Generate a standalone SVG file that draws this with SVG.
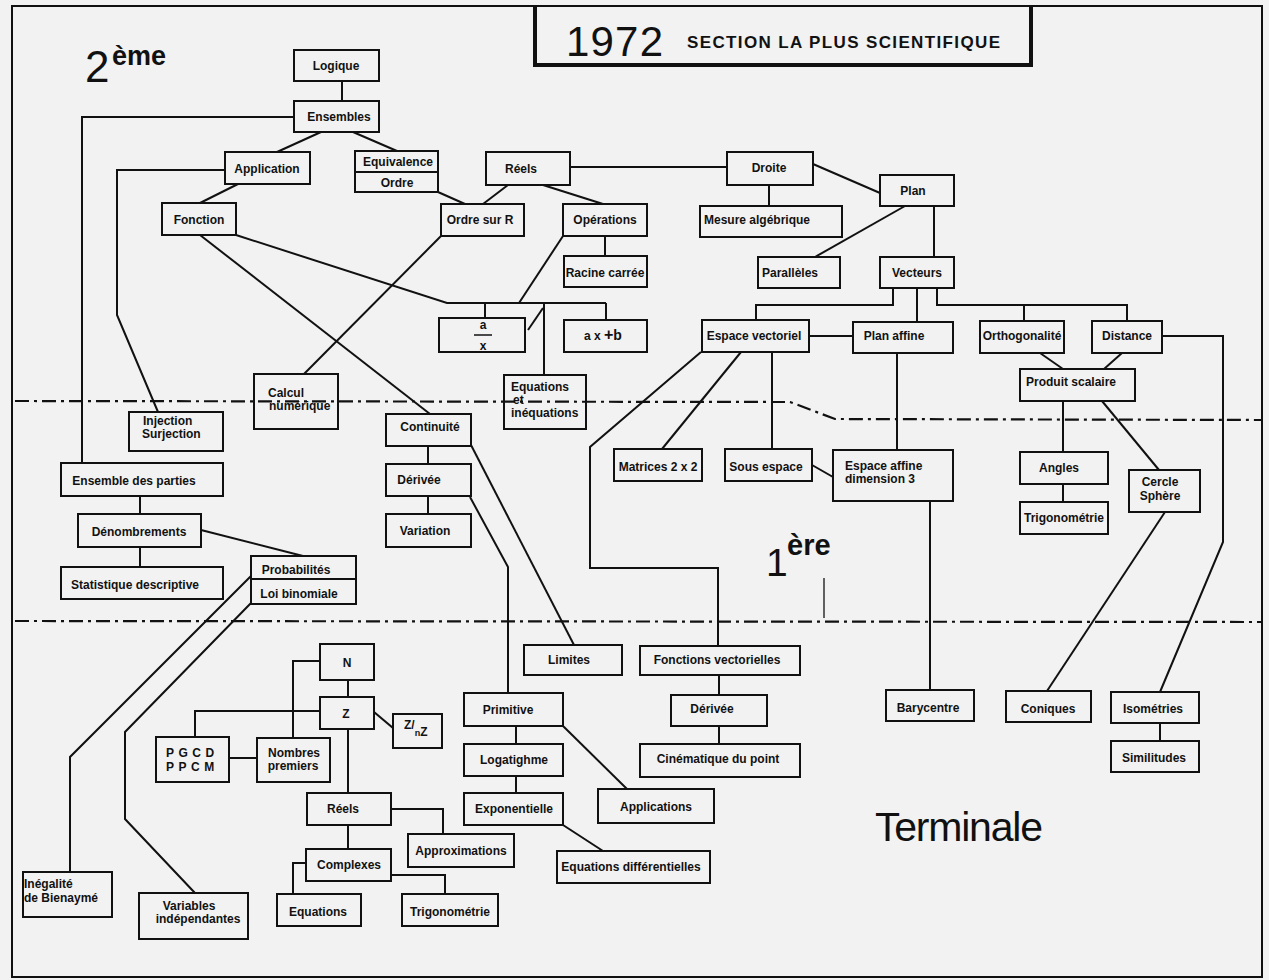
<svg xmlns="http://www.w3.org/2000/svg" width="1269" height="980" viewBox="0 0 1269 980">
<style>
.n rect{fill:none;stroke:#111;stroke-width:2}
.n line{stroke:#111;stroke-width:2}
text{font-family:"Liberation Sans",Arial,Helvetica,sans-serif;fill:#111}
.t{font-size:12px;font-weight:bold;text-anchor:middle}
.tl{font-size:12px;font-weight:bold;text-anchor:start}
#connectors line,#connectors polyline{fill:none;stroke:#111;stroke-width:2}
.dd{fill:none;stroke:#111;stroke-width:2.2;stroke-dasharray:14 5 3 5}
</style>
<rect x="0" y="0" width="1269" height="980" fill="#f2f2f2"/>
<g id="frame">
<rect x="12" y="6" width="1250" height="971" fill="none" stroke="#111" stroke-width="2"/>
<polyline points="535,6 535,65 1031,65 1031,6" fill="none" stroke="#111" stroke-width="4"/>
<text x="566" y="56" font-size="42" textLength="97">1972</text>
<text x="687" y="48" font-size="17" font-weight="bold" textLength="313">SECTION  LA  PLUS  SCIENTIFIQUE</text>
</g>
<g id="levels">
<text x="85" y="82" font-size="44">2</text>
<text x="112" y="65" font-size="27" font-weight="bold">ème</text>
<text x="766" y="576" font-size="39">1</text>
<text x="787" y="555" font-size="29" font-weight="bold">ère</text>
<text x="875" y="841" font-size="41" textLength="168">Terminale</text>
<polyline class="dd" points="15,401 790,402 835,419 1262,420"/>
<line class="dd" x1="15" y1="621" x2="1262" y2="622"/>
<line x1="824" y1="578" x2="824" y2="618" stroke="#111" stroke-width="1.3"/>
</g>
<g id="connectors">
<line x1="342" y1="81" x2="342" y2="101"/>
<line x1="321" y1="132" x2="277" y2="152"/>
<line x1="353" y1="132" x2="397" y2="151"/>
<line x1="238" y1="184" x2="200" y2="203"/>
<polyline points="294,117 82,117 82,463"/>
<polyline points="225,170 117,170 117,315 158,412"/>
<line x1="438" y1="192" x2="465" y2="204"/>
<line x1="508" y1="185" x2="483" y2="204"/>
<line x1="543" y1="185" x2="603" y2="204"/>
<line x1="570" y1="167" x2="727" y2="167"/>
<line x1="769" y1="185" x2="769" y2="206"/>
<line x1="813" y1="164" x2="880" y2="193"/>
<line x1="905" y1="206" x2="815" y2="257"/>
<line x1="934" y1="206" x2="934" y2="257"/>
<line x1="605" y1="236" x2="605" y2="256"/>
<line x1="563" y1="236" x2="519" y2="303"/>
<polyline points="236,235 447,303 606,303"/>
<line x1="485" y1="303" x2="485" y2="318"/>
<line x1="544" y1="303" x2="544" y2="375"/>
<line x1="606" y1="303" x2="606" y2="320"/>
<line x1="528" y1="330" x2="543" y2="308"/>
<line x1="441" y1="236" x2="304" y2="374"/>
<line x1="200" y1="235" x2="430" y2="414"/>
<line x1="428" y1="446" x2="428" y2="464"/>
<line x1="428" y1="496" x2="428" y2="514"/>
<line x1="471" y1="445" x2="574" y2="645"/>
<polyline points="470,497 508,567 508,693"/>
<line x1="516" y1="726" x2="516" y2="744"/>
<line x1="516" y1="776" x2="516" y2="793"/>
<line x1="563" y1="726" x2="627" y2="789"/>
<line x1="563" y1="825" x2="603" y2="851"/>
<line x1="719" y1="675" x2="719" y2="695"/>
<line x1="719" y1="726" x2="719" y2="744"/>
<polyline points="893,288 893,305 756,305 756,320"/>
<line x1="917" y1="288" x2="917" y2="322"/>
<polyline points="937,288 937,305 1127,305 1127,321"/>
<line x1="1024" y1="305" x2="1024" y2="321"/>
<line x1="809" y1="336" x2="853" y2="336"/>
<line x1="897" y1="353" x2="897" y2="450"/>
<line x1="930" y1="501" x2="930" y2="690"/>
<line x1="741" y1="352" x2="662" y2="449"/>
<line x1="772" y1="352" x2="772" y2="449"/>
<polyline points="701,352 590,447 590,568 718,568 718,646"/>
<line x1="812" y1="465" x2="833" y2="477"/>
<line x1="1040" y1="353" x2="1063" y2="369"/>
<line x1="1122" y1="353" x2="1104" y2="369"/>
<line x1="1063" y1="401" x2="1063" y2="452"/>
<line x1="1063" y1="484" x2="1063" y2="502"/>
<line x1="1102" y1="401" x2="1159" y2="470"/>
<line x1="1165" y1="512" x2="1047" y2="691"/>
<polyline points="1162,336 1223,336 1223,542 1160,692"/>
<line x1="1160" y1="723" x2="1160" y2="741"/>
<line x1="140" y1="496" x2="140" y2="514"/>
<line x1="140" y1="547" x2="140" y2="567"/>
<line x1="201" y1="530" x2="303" y2="556"/>
<polyline points="251,576 70,757 70,872"/>
<polyline points="251,603 125,732 125,819 195,893"/>
<line x1="348" y1="680" x2="348" y2="697"/>
<polyline points="320,661 293,661 293,738"/>
<polyline points="320,711 195,711 195,737"/>
<line x1="229" y1="758" x2="257" y2="758"/>
<line x1="374" y1="712" x2="393" y2="728"/>
<line x1="348" y1="729" x2="348" y2="793"/>
<polyline points="391,809 443,809 443,834"/>
<line x1="348" y1="825" x2="348" y2="849"/>
<polyline points="306,863 293,863 293,894"/>
<polyline points="391,875 445,875 445,894"/>
</g>
<g id="logique" class="n"><rect x="294" y="50" width="85" height="31"/><text class="t" x="336" y="70">Logique</text></g>
<g id="ensembles" class="n"><rect x="294" y="101" width="85" height="31"/><text class="t" x="339" y="121">Ensembles</text></g>
<g id="application" class="n"><rect x="225" y="152" width="85" height="32"/><text class="t" x="267" y="173">Application</text></g>
<g id="equivalence-ordre" class="n"><rect x="355" y="151" width="83" height="41"/><line x1="355" y1="172" x2="438" y2="172"/><text class="t" x="398" y="166">Equivalence</text><text class="t" x="397" y="187">Ordre</text></g>
<g id="fonction" class="n"><rect x="162" y="203" width="74" height="32"/><text class="t" x="199" y="224">Fonction</text></g>
<g id="reels-top" class="n"><rect x="486" y="152" width="84" height="33"/><text class="t" x="521" y="173">Réels</text></g>
<g id="droite" class="n"><rect x="727" y="152" width="86" height="33"/><text class="t" x="769" y="172">Droite</text></g>
<g id="ordre-sur-r" class="n"><rect x="441" y="204" width="83" height="32"/><text class="t" x="480" y="224">Ordre sur R</text></g>
<g id="operations" class="n"><rect x="563" y="204" width="84" height="32"/><text class="t" x="605" y="224">Opérations</text></g>
<g id="mesure" class="n"><rect x="700" y="206" width="142" height="31"/><text class="t" x="757" y="224">Mesure algébrique</text></g>
<g id="racine" class="n"><rect x="564" y="256" width="83" height="31"/><text class="t" x="605" y="277">Racine carrée</text></g>
<g id="paralleles" class="n"><rect x="758" y="257" width="82" height="31"/><text class="t" x="790" y="277">Parallèles</text></g>
<g id="plan" class="n"><rect x="880" y="175" width="74" height="31"/><text class="t" x="913" y="195">Plan</text></g>
<g id="vecteurs" class="n"><rect x="880" y="257" width="74" height="31"/><text class="t" x="917" y="277">Vecteurs</text></g>
<g id="espace-vectoriel" class="n"><rect x="702" y="320" width="107" height="32"/><text class="t" x="754" y="340">Espace vectoriel</text></g>
<g id="plan-affine" class="n"><rect x="853" y="322" width="100" height="31"/><text class="t" x="894" y="340">Plan affine</text></g>
<g id="orthogonalite" class="n"><rect x="980" y="321" width="84" height="32"/><text class="t" x="1022" y="340">Orthogonalité</text></g>
<g id="distance" class="n"><rect x="1092" y="321" width="70" height="32"/><text class="t" x="1127" y="340">Distance</text></g>
<g id="produit-scalaire" class="n"><rect x="1020" y="369" width="115" height="32"/><text class="t" x="1071" y="386">Produit scalaire</text></g>
<g id="angles" class="n"><rect x="1020" y="452" width="88" height="32"/><text class="t" x="1059" y="472">Angles</text></g>
<g id="trigonometrie-1" class="n"><rect x="1020" y="502" width="88" height="32"/><text class="t" x="1064" y="522">Trigonométrie</text></g>
<g id="cercle-sphere" class="n"><rect x="1129" y="470" width="71" height="42"/><text class="t" x="1160" y="486">Cercle</text><text class="t" x="1160" y="500">Sphère</text></g>
<g id="espace-affine" class="n"><rect x="833" y="450" width="120" height="51"/><text class="tl" x="845" y="470">Espace affine</text><text class="tl" x="845" y="483">dimension 3</text></g>
<g id="matrices" class="n"><rect x="614" y="449" width="88" height="32"/><text class="t" x="658" y="471">Matrices 2 x 2</text></g>
<g id="sous-espace" class="n"><rect x="725" y="449" width="87" height="32"/><text class="t" x="766" y="471">Sous espace</text></g>
<g id="barycentre" class="n"><rect x="886" y="690" width="88" height="31"/><text class="t" x="928" y="712">Barycentre</text></g>
<g id="coniques" class="n"><rect x="1006" y="691" width="85" height="31"/><text class="t" x="1048" y="713">Coniques</text></g>
<g id="isometries" class="n"><rect x="1111" y="692" width="88" height="31"/><text class="t" x="1153" y="713">Isométries</text></g>
<g id="similitudes" class="n"><rect x="1111" y="741" width="88" height="31"/><text class="t" x="1154" y="762">Similitudes</text></g>
<g id="fonctions-vectorielles" class="n"><rect x="640" y="646" width="160" height="29"/><text class="t" x="717" y="664">Fonctions vectorielles</text></g>
<g id="derivee-3" class="n"><rect x="671" y="695" width="96" height="31"/><text class="t" x="712" y="713">Dérivée</text></g>
<g id="cinematique" class="n"><rect x="640" y="744" width="160" height="33"/><text class="t" x="718" y="763">Cinématique du point</text></g>
<g id="limites" class="n"><rect x="524" y="645" width="98" height="30"/><text class="t" x="569" y="664">Limites</text></g>
<g id="primitive" class="n"><rect x="464" y="693" width="99" height="33"/><text class="t" x="508" y="714">Primitive</text></g>
<g id="logatighme" class="n"><rect x="464" y="744" width="99" height="32"/><text class="t" x="514" y="764">Logatighme</text></g>
<g id="exponentielle" class="n"><rect x="464" y="793" width="99" height="32"/><text class="t" x="514" y="813">Exponentielle</text></g>
<g id="applications" class="n"><rect x="598" y="789" width="116" height="34"/><text class="t" x="656" y="811">Applications</text></g>
<g id="equations-differentielles" class="n"><rect x="557" y="851" width="153" height="32"/><text class="t" x="631" y="871">Equations différentielles</text></g>
<g id="approximations" class="n"><rect x="408" y="834" width="106" height="33"/><text class="t" x="461" y="855">Approximations</text></g>
<g id="trigonometrie-2" class="n"><rect x="402" y="894" width="96" height="32"/><text class="t" x="450" y="916">Trigonométrie</text></g>
<g id="equations-2" class="n"><rect x="277" y="894" width="84" height="32"/><text class="t" x="318" y="916">Equations</text></g>
<g id="complexes" class="n"><rect x="306" y="849" width="85" height="32"/><text class="t" x="349" y="869">Complexes</text></g>
<g id="reels-bottom" class="n"><rect x="307" y="793" width="84" height="32"/><text class="t" x="343" y="813">Réels</text></g>
<g id="n" class="n"><rect x="320" y="644" width="54" height="36"/><text class="t" x="347" y="667" font-size="13">N</text></g>
<g id="z" class="n"><rect x="320" y="697" width="54" height="32"/><text class="t" x="346" y="718" font-size="13">Z</text></g>
<g id="znz" class="n"><rect x="393" y="714" width="49" height="34"/><text class="tl" x="404" y="729" font-size="11">Z<tspan>/</tspan><tspan dy="7" font-size="9">n</tspan><tspan dy="0" font-size="12">Z</tspan></text></g>
<g id="pgcd-ppcm" class="n"><rect x="156" y="737" width="73" height="45"/><text class="tl" x="166" y="757" letter-spacing="4.5">PGCD</text><text class="tl" x="166" y="771" letter-spacing="4.5">PPCM</text></g>
<g id="nombres-premiers" class="n"><rect x="257" y="738" width="73" height="44"/><text class="t" x="294" y="757">Nombres</text><text class="t" x="293" y="770">premiers</text></g>
<g id="inegalite" class="n"><rect x="23" y="872" width="89" height="45"/><text class="tl" x="24" y="888">Inégalité</text><text class="tl" x="24" y="902">de Bienaymé</text></g>
<g id="variables" class="n"><rect x="139" y="893" width="109" height="46"/><text class="t" x="189" y="910">Variables</text><text class="t" x="198" y="923">indépendantes</text></g>
<g id="injection" class="n"><rect x="129" y="412" width="94" height="39"/><text class="tl" x="143" y="425">Injection</text><text class="tl" x="142" y="438">Surjection</text></g>
<g id="ensemble-des-parties" class="n"><rect x="61" y="463" width="162" height="33"/><text class="t" x="134" y="485">Ensemble des parties</text></g>
<g id="denombrements" class="n"><rect x="78" y="514" width="123" height="33"/><text class="t" x="139" y="536">Dénombrements</text></g>
<g id="statistique" class="n"><rect x="61" y="567" width="162" height="32"/><text class="t" x="135" y="589">Statistique descriptive</text></g>
<g id="probabilites" class="n"><rect x="251" y="556" width="105" height="48"/><line x1="251" y1="579" x2="356" y2="579"/><text class="t" x="296" y="574">Probabilités</text><text class="t" x="299" y="598">Loi binomiale</text></g>
<g id="continuite" class="n"><rect x="386" y="414" width="85" height="32"/><text class="t" x="430" y="431">Continuité</text></g>
<g id="derivee-2" class="n"><rect x="386" y="464" width="85" height="32"/><text class="t" x="419" y="484">Dérivée</text></g>
<g id="variation" class="n"><rect x="386" y="514" width="85" height="33"/><text class="t" x="425" y="535">Variation</text></g>
<g id="calcul-numerique" class="n"><rect x="254" y="374" width="84" height="55"/><text class="tl" x="268" y="397">Calcul</text><text class="tl" x="269" y="410">numérique</text></g>
<g id="equations-inequations" class="n"><rect x="504" y="375" width="82" height="54"/><text class="tl" x="511" y="391">Equations</text><text class="tl" x="513" y="404">et</text><text class="tl" x="511" y="417">inéquations</text></g>
<g id="a-sur-x" class="n"><rect x="439" y="318" width="86" height="34"/><text class="t" x="483" y="329" font-size="11">a</text><line x1="474" y1="335" x2="492" y2="335" style="stroke-width:1.5"/><text class="t" x="483" y="350" font-size="11">x</text></g>
<g id="ax-plus-b" class="n"><rect x="564" y="320" width="83" height="32"/><text class="tl" x="584" y="340" font-size="11">a x <tspan font-size="16">+</tspan><tspan font-size="14">b</tspan></text></g>
</svg>
